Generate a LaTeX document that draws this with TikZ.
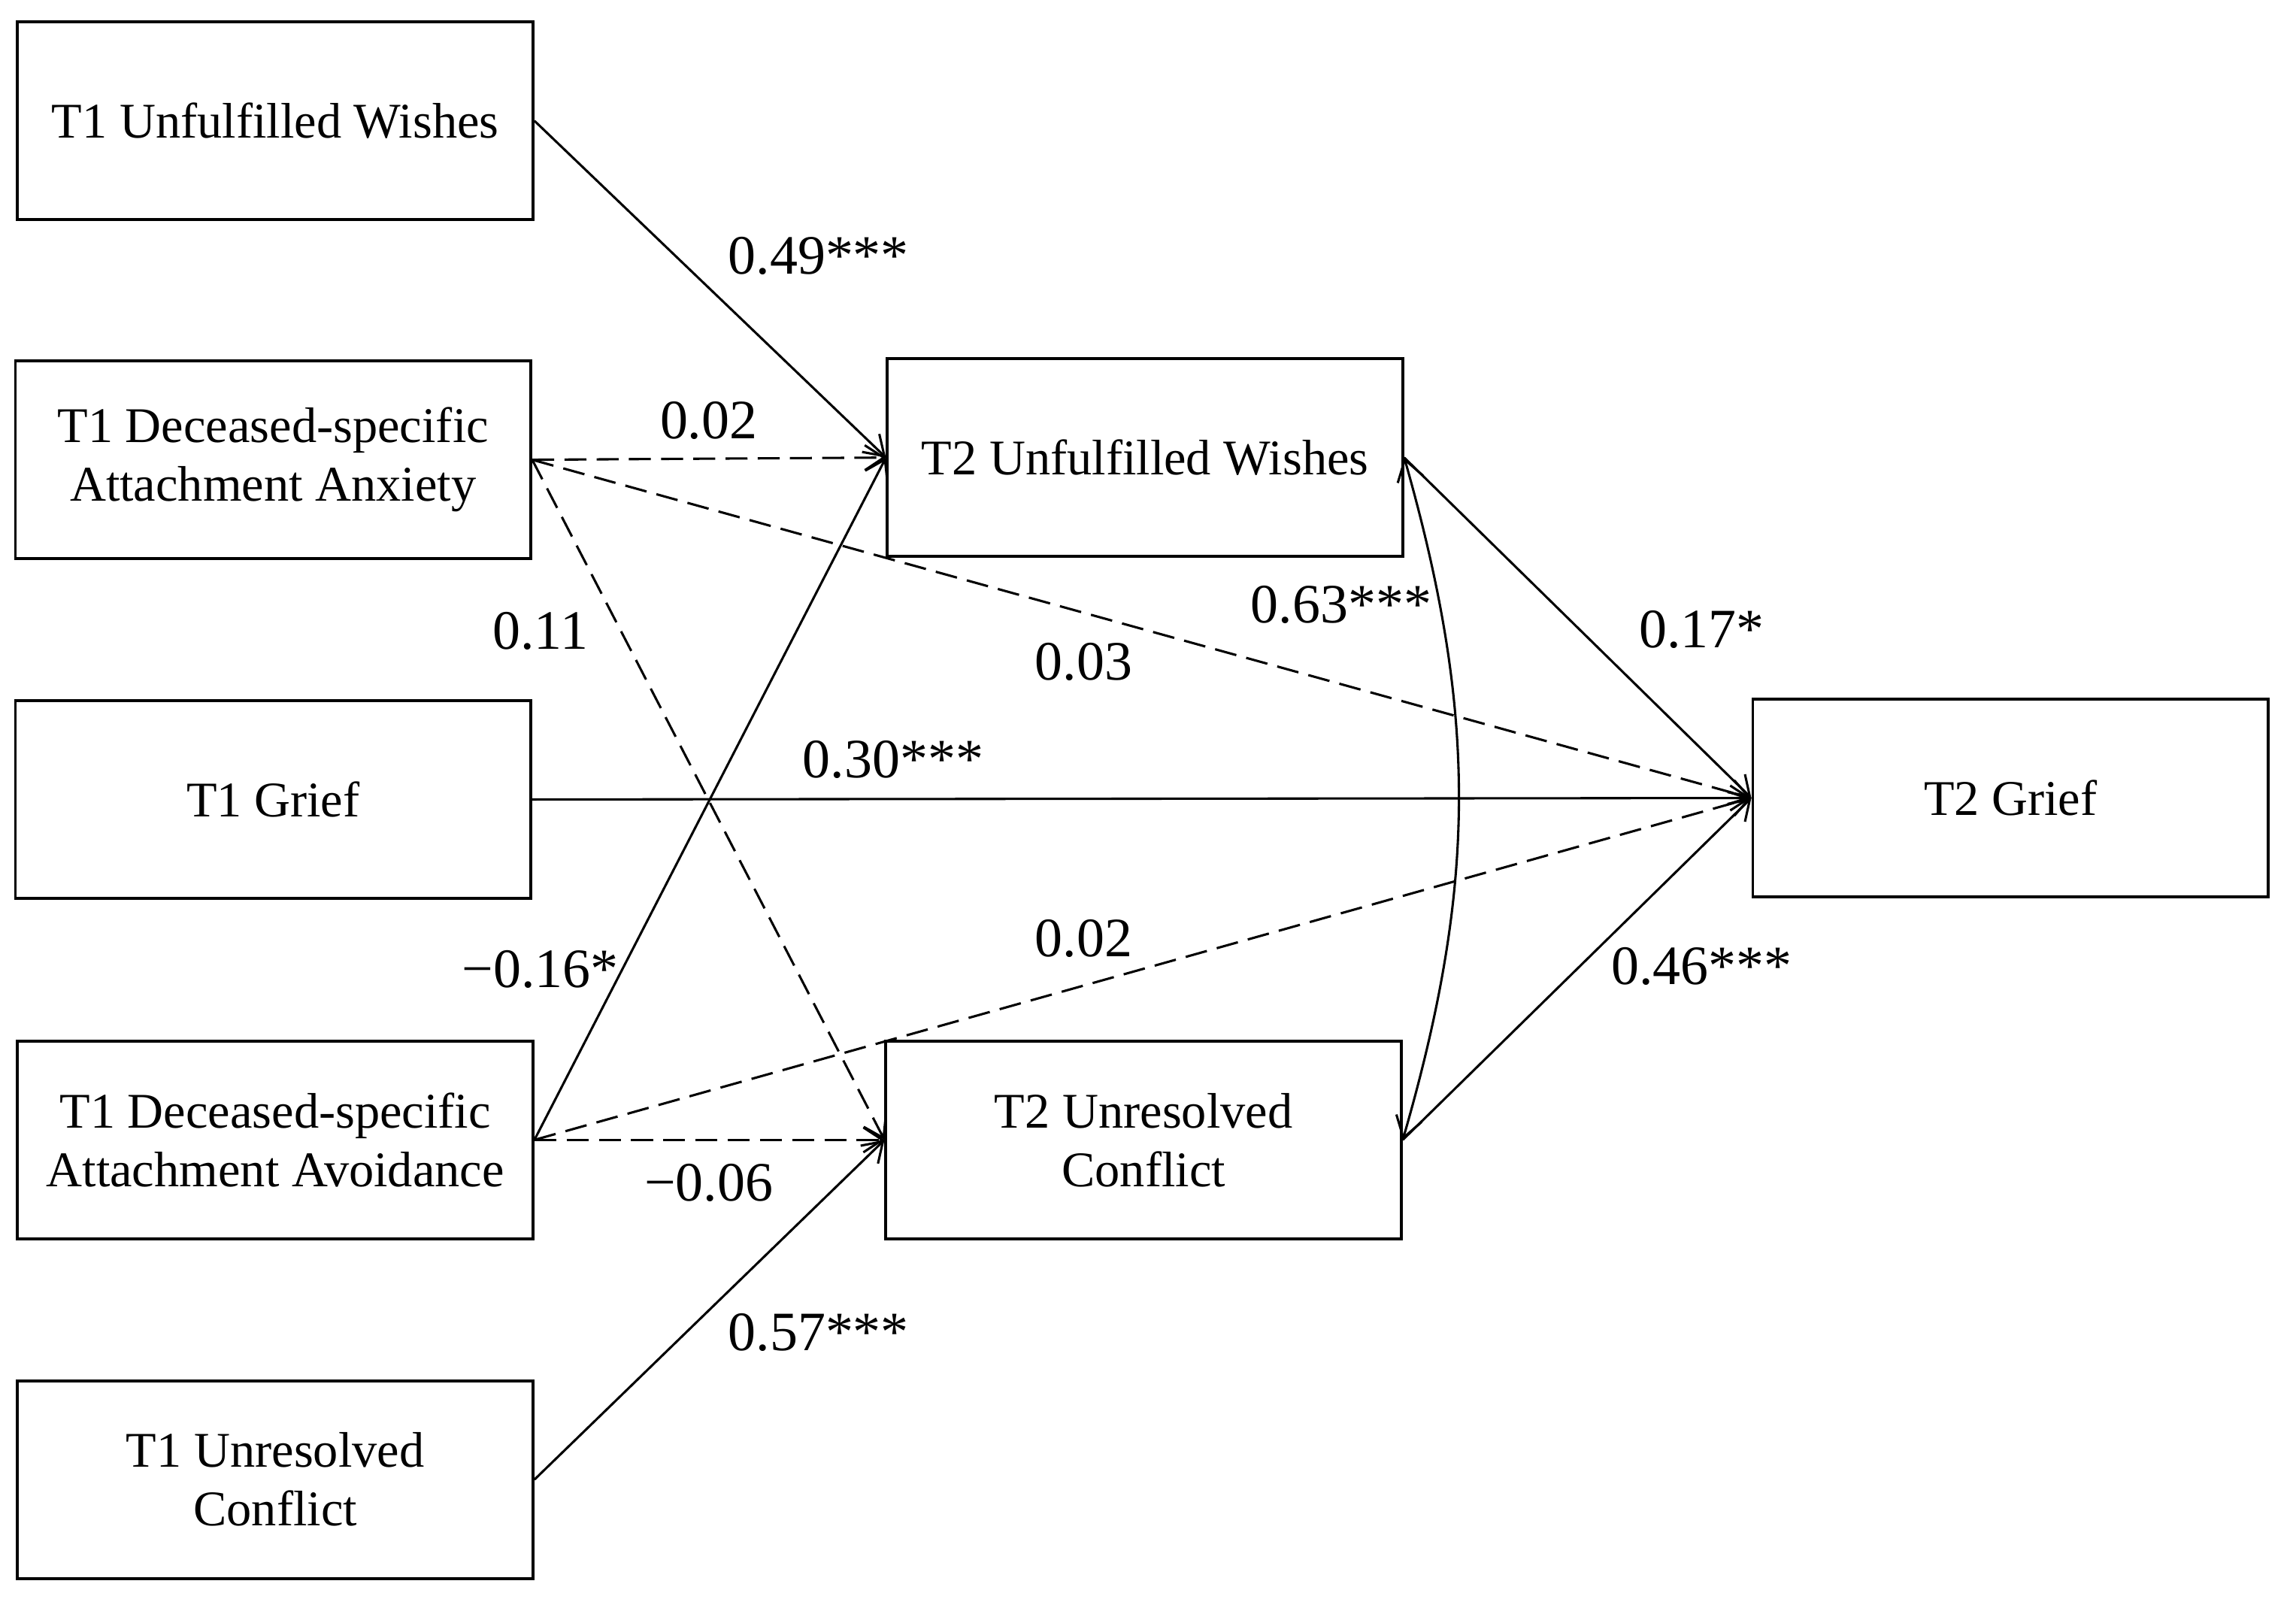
\documentclass[tikz,border=0pt]{standalone}
\usepackage{fontspec}
\setmainfont{Liberation Serif}
\usetikzlibrary{arrows.meta}

\tikzset{
  var/.style={rectangle, draw, line width=0.55pt, minimum width=3.52cm, minimum height=1.35cm,
    align=center, inner sep=0pt, font=\fontsize{9.7}{11.4}\selectfont},
  coef/.style={inner sep=0pt, font=\fontsize{10.8}{12}\selectfont},
  path/.style={line width=0.45pt, -{Straight Barb[length=1.3mm, width=1.7mm]}},
  ns/.style={path, dash pattern=on 1.5mm off 0.7mm},
  cov/.style={line width=0.45pt, {Straight Barb[length=1.4mm, width=1.8mm]}-{Straight Barb[length=1.4mm, width=1.8mm]}}
}

\begin{document}
\begin{tikzpicture}
    \useasboundingbox (0,0) rectangle (15.68,-10.94);

    % ノード
    \node[var] (uw1) at (1.88, -0.825) {T1 Unfulfilled Wishes};
    \node[var] (anx1) at (1.865, -3.14) {T1 Deceased-specific\\Attachment Anxiety};
    \node[var] (gr1) at (1.865, -5.46) {T1 Grief};
    \node[var] (av1) at (1.88, -7.785) {T1 Deceased-specific\\Attachment Avoidance};
    \node[var] (uc1) at (1.88, -10.105) {T1 Unresolved\\Conflict};
    \node[var] (uw2) at (7.82, -3.125) {T2 Unfulfilled Wishes};
    \node[var] (uc2) at (7.81, -7.785) {T2 Unresolved\\Conflict};
    \node[var] (gr2) at (13.73, -5.45) {T2 Grief};

    % エッジ
    \draw[path] (uw1.east) -- (uw2.west);
    \draw[ns] (anx1.east) -- (uw2.west);
    \draw[ns] (anx1.east) -- (gr2.west);
    \draw[ns] (anx1.east) -- (uc2.west);
    \draw[path] (gr1.east) -- (gr2.west);
    \draw[path] (av1.east) -- (uw2.west);
    \draw[ns] (av1.east) -- (gr2.west);
    \draw[ns] (av1.east) -- (uc2.west);
    \draw[path] (uc1.east) -- (uc2.west);
    \draw[path] (uw2.east) -- (gr2.west);
    \draw[path] (uc2.east) -- (gr2.west);
    \draw[cov] (uw2.east) to[bend left=16] (uc2.east);

    % 係数
    \node[coef] (b1) at (5.59, -1.75) {0.49***};
    \node[coef] (b2) at (4.84, -2.87) {0.02};
    \node[coef] (b3) at (3.69, -4.31) {0.11};
    \node[coef] (b4) at (7.40, -4.52) {0.03};
    \node[coef] (b5) at (6.10, -5.19) {0.30***};
    \node[coef] (b6) at (3.69, -6.62) {−0.16*};
    \node[coef] (b7) at (7.40, -6.41) {0.02};
    \node[coef] (b8) at (4.84, -8.08) {−0.06};
    \node[coef] (b9) at (5.59, -9.10) {0.57***};
    \node[coef] (b10) at (9.16, -4.13) {0.63***};
    \node[coef] (b11) at (11.62, -4.30) {0.17*};
    \node[coef] (b12) at (11.62, -6.60) {0.46***};
\end{tikzpicture}
\end{document}
